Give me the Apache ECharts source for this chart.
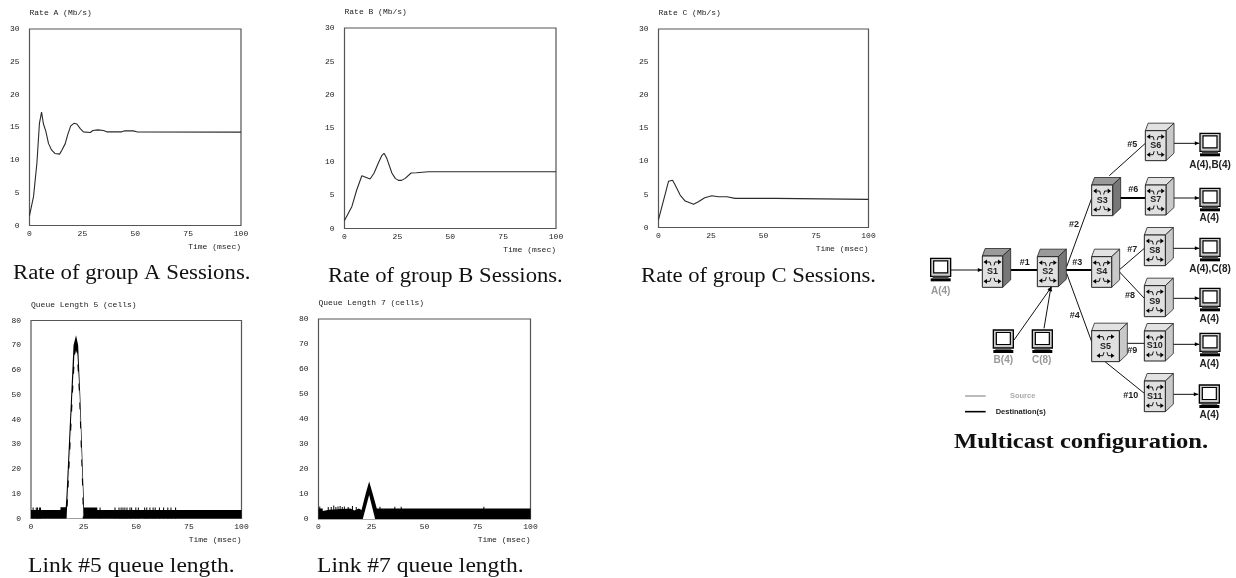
<!DOCTYPE html>
<html><head><meta charset="utf-8">
<style>html,body{margin:0;padding:0;background:#fff}#c{width:1236px;height:578px}</style>
<script src="https://cdn.jsdelivr.net/npm/echarts@6/dist/echarts.min.js"></script>
</head><body><div id="c"></div>
<script>
// ---------- chart values ----------
const rateA = [[0,1.5],[1.9,4.4],[3.5,9.5],[4.7,15.6],[5.7,17.3],[6.6,15.5],[7.7,14.4],[9,12.5],[10.5,11.5],[12,11],[14.2,10.9],[15.3,11.5],[16.9,12.5],[18,13.8],[19.5,15.2],[21,15.6],[22.4,15.5],[24,14.8],[25.5,14.3],[28.7,14.2],[30,14.5],[32.3,14.6],[35,14.5],[36.5,14.3],[43.6,14.3],[45,14.45],[49,14.45],[50.7,14.3],[100,14.25]];
const rateB = [[0,1.2],[3.5,3.3],[5.8,5.8],[8.2,7.9],[12.1,7.4],[14,8.3],[16,9.8],[17.6,10.9],[18.7,11.25],[20,10.5],[22.4,8.3],[24,7.5],[25.5,7.2],[27,7.2],[28.7,7.5],[31.5,8.3],[34,8.35],[39.7,8.5],[100,8.5]];
const rateC = [[0,1.2],[2.4,4.1],[4.8,7],[6.7,7.15],[8,6.4],[10.3,4.9],[12.7,4],[14.3,3.8],[16.7,3.5],[19,3.9],[22,4.5],[25.4,4.8],[28.6,4.65],[32.5,4.65],[36.5,4.4],[55.5,4.4],[56,4.25],[100,4.25]];
const queue5Top = [[0,3.4],[14,3.4],[14,4.5],[16.5,4.5],[16.9,10],[18,30],[19.1,50],[20.2,70],[21.4,74],[22.4,70],[23.4,50],[24.2,30],[25,10],[25.2,4.4],[31.5,4.4],[31.5,3.4],[100,3.4]];
const queue5Hole = [[17.2,0],[17.7,10],[18.8,30],[19.9,50],[20.9,66],[21.4,68],[21.8,66],[22.8,50],[23.6,30],[24.4,10],[24.6,0]];
const queue5Spikes = [[1,4.4],[2.5,4.4],[3.1,4.4],[4,4.4],[4.5,4.4],[32.8,4.4],[39.9,4.4],[41.8,4.4],[42.8,4.4],[43.7,4.4],[44.6,4.4],[45.6,4.4],[47,4.4],[47.8,4.4],[49.8,4.4],[51,4.4],[54,4.4],[55,4.4],[56.5,4.4],[58,4.4],[59,4.4],[61,4.4],[63,4.4],[65,4.4],[66.5,4.4],[68.7,4.4]];
const queue7Top = [[0,4.2],[2,4.2],[2,3.2],[2.7,3.2],[2.7,3.7],[5,3.7],[5,4.2],[15,4.2],[15,3.4],[17,3.4],[17,4.2],[19,4.2],[19,3.6],[20.3,3.6],[22.3,10.3],[23.9,15],[25.5,10.3],[27.5,4.2],[100,4.2]];
const queue7Hole = [[20.9,0],[23.9,9.6],[26.7,0]];
const queue7Spikes = [[0.6,5],[4.6,4.8],[6,4.8],[7.2,5.4],[8.2,4.8],[9.2,5],[10.2,5.2],[11.2,4.8],[12.2,5],[14,4.8],[16,5.2],[17.8,4.8],[29,4.9],[36,4.9],[39,4.9],[78,4.9]];

const xTicks = ['0','25','50','75','100'];
const rateTitles = ['Rate A (Mb/s)','Rate B (Mb/s)','Rate C (Mb/s)'];
const queueTitles = ['Queue Length 5 (cells)','Queue Length 7 (cells)'];
const xName = 'Time (msec)';
const captions = ['Rate of group A Sessions.','Rate of group B Sessions.','Rate of group C Sessions.','Link #5 queue length.','Link #7 queue length.','Multicast configuration.'];

// ---------- diagram content ----------
const switchNames = ['S1','S2','S3','S4','S5','S6','S7','S8','S9','S10','S11'];
const hostLabels = ['A(4)','B(4)','C(8)','A(4),B(4)','A(4)','A(4),C(8)','A(4)','A(4)','A(4)'];
const linkLabels = ['#1','#2','#3','#4','#5','#6','#7','#8','#9','#10'];
const legendLabels = ['Source','Destination(s)'];

// ---------- diagram layout (in 3x local units of the diagram area) ----------
const switchBoxes = [[187,438,61,94,1],[352,440,63,90,1],[515,225,63,92,1],[515,440,60,92,0],[515,662,83,93,0],[676,62,62,90,0],[676,225,62,90,0],[673,375,63,92,0],[673,527,63,93,0],[673,663,63,90,0],[673,813,63,92,0]];
const hostSpots = [[62,472],[250,687],[367,687],[870,97],[870,262],[870,412],[870,562],[870,697],[868,852]];
const hostTextSpots = [[62,545,1],[250,752,1],[365,752,1],[870,165,0],[868,326,0],[870,478,0],[868,628,0],[868,762,0],[868,915,0]];
const thickSegs = [[272,480,352,480],[437,480,515,480],[600,264,676,264]];
const thinSegs = [[440,470,515,265],[440,490,515,695],[568,197,676,100],[595,482,673,415],[595,482,673,565],[598,700,673,700],[555,755,673,850]];
const arrowSegs = [[92,480,187,480],[282,690,395,530],[372,655,393,530],[762,100,838,100],[762,264,838,264],[757,415,838,415],[760,565,838,565],[757,703,838,703],[760,853,835,853]];
const linkTextSpots = [[314,458],[462,345],[472,458],[464,618],[637,105],[640,240],[637,420],[630,558],[637,723],[632,858]];

// ---------- page layout ----------
const mono = 'Liberation Mono';
const serif = 'Liberation Serif';
const frames = [
  {left:29.5,top:29,right:241,bottom:225.5,yMax:30,yStep:5},
  {left:344.5,top:28,right:556,bottom:228.5,yMax:30,yStep:5},
  {left:658.5,top:29,right:868.5,bottom:227.5,yMax:30,yStep:5},
  {left:31,top:320.5,right:241.5,bottom:518.5,yMax:80,yStep:10},
  {left:318.5,top:319,right:530.5,bottom:519,yMax:80,yStep:10}
];
const yTitles = rateTitles.concat(queueTitles);
// x, y, horizontal stretch, weight
const capSpots = [[13,264,1.14,'normal'],[328,267,1.133,'normal'],[641,267,1.134,'normal'],[28,557,1.177,'normal'],[317,557,1.177,'normal'],[954,433,1.23,'bold']];

const grids = frames.map(f => ({left:f.left,top:f.top,width:f.right-f.left,height:f.bottom-f.top,show:true,borderColor:'#555',borderWidth:1.2,backgroundColor:'#fff',containLabel:false}));
grids.push({left:920,top:110,width:316,height:350,show:false});
const axisText = {fontFamily:mono,fontSize:8,color:'#222'};
const xAxes = frames.map((f,i) => ({gridIndex:i,type:'value',min:0,max:100,interval:25,axisLine:{show:false},axisTick:{show:false},splitLine:{show:false},
  axisLabel:Object.assign({margin:4,formatter:v=>xTicks[v/25]},axisText),
  name:xName,nameLocation:'end',nameGap:0,nameTextStyle:Object.assign({align:'right',verticalAlign:'top',padding:[17,0,0,0]},axisText)}));
const yAxes = frames.map((f,i) => ({gridIndex:i,type:'value',min:0,max:f.yMax,interval:f.yStep,axisLine:{show:false},axisTick:{show:false},splitLine:{show:false},
  axisLabel:Object.assign({margin:10},axisText),
  name:yTitles[i],nameLocation:'end',nameGap:0,nameTextStyle:Object.assign({align:'left',verticalAlign:'bottom',padding:[0,0,12,0]},axisText)}));
xAxes.push({gridIndex:5,type:'value',min:0,max:948,show:false});
yAxes.push({gridIndex:5,type:'value',min:0,max:1050,inverse:true,show:false});

const rateSeries = [rateA,rateB,rateC].map((d,i)=>({type:'line',xAxisIndex:i,yAxisIndex:i,data:d,symbol:'none',smooth:false,lineStyle:{color:'#2a2a2a',width:1.1},silent:true}));
function queueSeries(idx,top,hole,spikes){
  return [
    {type:'bar',xAxisIndex:idx,yAxisIndex:idx,data:spikes,barWidth:1,itemStyle:{color:'#000'},silent:true,z:2},
    {type:'line',xAxisIndex:idx,yAxisIndex:idx,data:top,symbol:'none',lineStyle:{width:0},areaStyle:{color:'#000',opacity:1},silent:true,z:3},
    {type:'line',xAxisIndex:idx,yAxisIndex:idx,data:hole,symbol:'none',lineStyle:{width:idx===3?1.2:0,color:'#fff',type:[12,7]},areaStyle:{color:'#fff',opacity:1},silent:true,z:4}
  ];
}

// ---------- diagram drawing ----------
function P(api,x,y){return api.coord([x,y]);}
const K = 1/3;
function seg(api,s,color,w){const a=P(api,s[0],s[1]),b=P(api,s[2],s[3]);return {type:'line',shape:{x1:a[0],y1:a[1],x2:b[0],y2:b[1]},style:{stroke:color,lineWidth:w}};}
function head(api,s){const b=P(api,s[2],s[3]),a=P(api,s[0],s[1]);const t=Math.atan2(b[1]-a[1],b[0]-a[0]),L=4.5,W=2;
  const c=Math.cos(t),n=Math.sin(t);
  return {type:'polygon',shape:{points:[b,[b[0]-L*c-W*n,b[1]-L*n+W*c],[b[0]-L*c+W*n,b[1]-L*n-W*c]]},style:{fill:'#000'}};}
function label(p,text,color){return {type:'text',x:p[0],y:p[1],style:{text,fontFamily:'Liberation Sans',fontSize:10,fontWeight:'bold',fill:color,align:'center',verticalAlign:'middle'}};}

function cube(api,b,name){
  const o=P(api,b[0],b[1]),w=b[2]*K,h=b[3]*K,dx=8,dy=7.5,x=o[0],y=o[1];
  const dark=b[4];
  const kids=[
    {type:'polygon',shape:{points:[[x,y],[x+dx*.35,y-dy],[x+w+dx,y-dy],[x+w,y]]},style:{fill:dark?'#9a9a9a':'#e2e2e2',stroke:'#222',lineWidth:.8}},
    {type:'polygon',shape:{points:[[x+w,y],[x+w+dx,y-dy],[x+w+dx,y+h-dy],[x+w,y+h]]},style:{fill:dark?'#777':'#c9c9c9',stroke:'#222',lineWidth:.8}},
    {type:'rect',shape:{x,y,width:w,height:h},style:{fill:'#e0e0e0',stroke:'#222',lineWidth:1}},
    {type:'text',x:x+w/2,y:y+h/2,style:{text:name,fontFamily:'Liberation Sans',fontSize:9,fontWeight:'bold',fill:'#222',align:'center',verticalAlign:'middle'}}
  ];
  const cx=x+w/2;
  [y+6,y+h-6].forEach((yy,i)=>{
    const s=i===0?1:-1;
    [-1,1].forEach(d=>{
      kids.push({type:'polygon',shape:{points:[[cx+d*9,yy],[cx+d*5.5,yy-2.4],[cx+d*5.5,yy+2.4]]},style:{fill:'#000'}});
      kids.push({type:'polyline',shape:{points:[[cx+d*5.5,yy],[cx+d*2.5,yy],[cx+d*1.5,yy+s*3.5]]},style:{fill:'none',stroke:'#000',lineWidth:.9}});
    });
  });
  return {type:'group',children:kids};
}
function host(api,s){
  const c=P(api,s[0],s[1]),x=c[0],y=c[1];
  return {type:'group',children:[
    {type:'rect',shape:{x:x-10,y:y-9,width:20,height:18},style:{fill:'#ccc',stroke:'#000',lineWidth:1.3}},
    {type:'rect',shape:{x:x-7,y:y-6.5,width:14,height:12},style:{fill:'#fff',stroke:'#000',lineWidth:1.2}},
    {type:'rect',shape:{x:x-8,y:y+9,width:16,height:1.8},style:{fill:'#444'}},
    {type:'rect',shape:{x:x-10,y:y+11,width:20,height:3},style:{fill:'#000'}}
  ]};
}
const diagramSeries = {type:'custom',xAxisIndex:5,yAxisIndex:5,coordinateSystem:'cartesian2d',silent:true,z:5,clip:false,
  data:[[0,0]],
  renderItem:function(p,api){
    const kids=[];
    thickSegs.forEach(s=>kids.push(seg(api,s,'#000',2)));
    thinSegs.forEach(s=>kids.push(seg(api,s,'#111',1)));
    arrowSegs.forEach(s=>{kids.push(seg(api,s,'#111',1));kids.push(head(api,s));});
    switchBoxes.forEach((b,i)=>kids.push(cube(api,b,switchNames[i])));
    hostSpots.forEach(s=>kids.push(host(api,s)));
    hostTextSpots.forEach((s,i)=>kids.push(label(P(api,s[0],s[1]),hostLabels[i],s[2]?'#999':'#222')));
    linkTextSpots.forEach((s,i)=>kids.push({type:'text',x:P(api,s[0],s[1])[0],y:P(api,s[0],s[1])[1],style:{text:linkLabels[i],fontFamily:'Liberation Sans',fontSize:9,fontWeight:'bold',fill:'#222',align:'center',verticalAlign:'middle'}}));
    kids.push(seg(api,[135,858,197,858],'#aaa',1.6));
    kids.push(seg(api,[135,905,197,905],'#000',1.6));
    const l1=P(api,308,858),l2=P(api,302,905);
    kids.push({type:'text',x:l1[0],y:l1[1],style:{text:legendLabels[0],fontFamily:'Liberation Sans',fontSize:7.5,fontWeight:'bold',fill:'#aaa',align:'center',verticalAlign:'middle'}});
    kids.push({type:'text',x:l2[0],y:l2[1],style:{text:legendLabels[1],fontFamily:'Liberation Sans',fontSize:7.5,fontWeight:'bold',fill:'#222',align:'center',verticalAlign:'middle'}});
    return {type:'group',children:kids};
  }};

const captionGraphics = capSpots.map((s,i)=>({type:'text',x:s[0],y:s[1],scaleX:s[2],originX:0,originY:0,silent:true,
  style:{text:captions[i],fontFamily:serif,fontSize:20,fontWeight:s[3],fill:'#111',align:'left',verticalAlign:'top'}}));

const chart = echarts.init(document.getElementById('c'),null,{renderer:'canvas'});
chart.setOption({animation:false,backgroundColor:'#fff',graphic:captionGraphics,grid:grids,xAxis:xAxes,yAxis:yAxes,
  series:rateSeries.concat(queueSeries(3,queue5Top,queue5Hole,queue5Spikes),queueSeries(4,queue7Top,queue7Hole,queue7Spikes),[diagramSeries])});
</script></body></html>
